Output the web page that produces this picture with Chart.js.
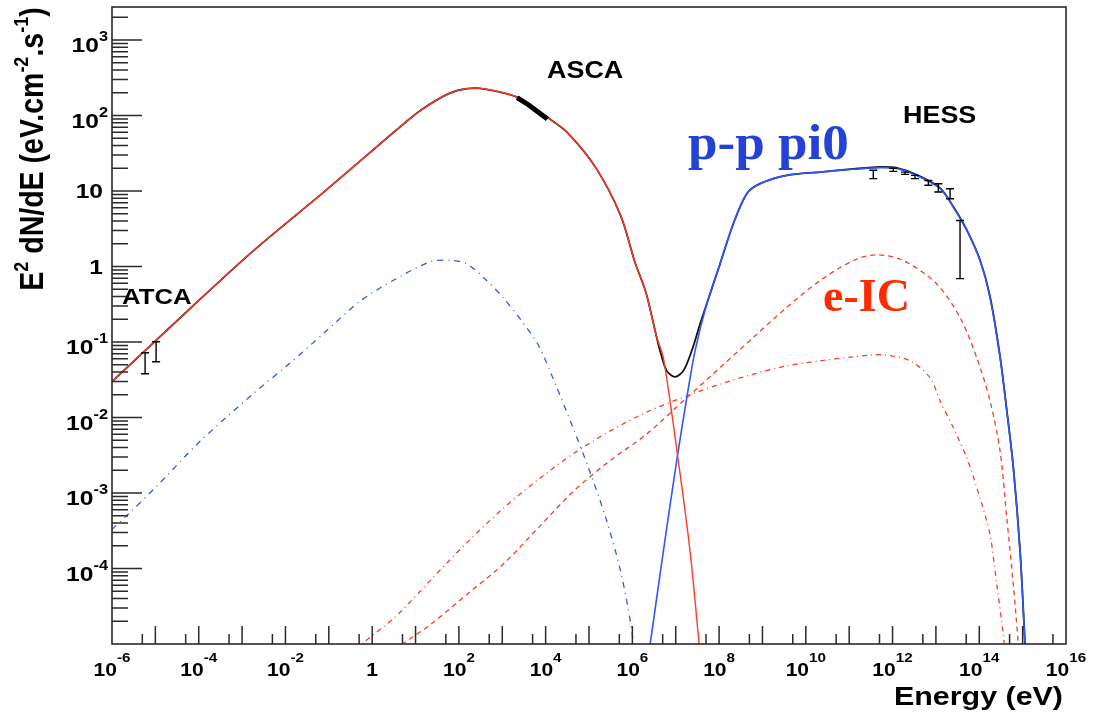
<!DOCTYPE html>
<html>
<head>
<meta charset="utf-8">
<title>Broadband SED</title>
<script src="https://cdn.jsdelivr.net/npm/chart.js@4.4.0/dist/chart.umd.min.js"></script>
<style>
  html, body { margin: 0; padding: 0; background: #fff; }
  #wrap { width: 1111px; height: 714px; position: relative; }
</style>
</head>
<body>
<div id="wrap"><canvas id="sed"></canvas></div>
<script>
// Energies in eV, fluxes as E^2 dN/dE in eV cm^-2 s^-1

// synchrotron (red solid)
const synchE = [1e-6, 7.0e-5, 1.78e-3, 0.0787, 3.49, 13.2, 60, 155, 400, 2200, 1.11e4, 3.13e4, 1.43e5, 5.4e5, 1.15e6, 2.04e6, 3.59e6, 5.18e6, 1.15e7, 2.14e7, 3.5e7, 4.0e7];
const synchY = [0.030, 0.293, 1.60, 9.8, 63.2, 117.5, 196, 227, 224, 175, 94, 59.8, 20.4, 4.69, 1.13, 0.46, 0.119, 0.0622, 2.64e-3, 1.69e-4, 9.5e-6, 4.4e-6];

// p-p pi0 decay (blue solid)
const piE = [2.4e6, 5.18e6, 1.05e7, 1.80e7, 2.79e7, 5.19e7, 1.05e8, 2.13e8, 4.35e8, 8.8e8, 3.63e9, 2.13e10, 1.25e11, 5.15e11, 1.25e12, 4.3e12, 1.25e13, 2.53e13, 5.15e13, 1.04e14, 1.77e14, 3.02e14, 4.31e14, 6.1e14, 8.73e14, 1.14e15, 1.2e15];
const piY = [7.5e-6, 1.69e-4, 2.64e-3, 0.0183, 0.0764, 0.318, 1.08, 3.68, 9.2, 12.5, 16.1, 17.8, 19.4, 20.4, 19.8, 15.3, 10.7, 6.1, 3.0, 1.20, 0.39, 0.0622, 0.0122, 2.15e-3, 1.69e-4, 9.5e-6, 5.5e-6];

// total model (black)
const totalE = [1e-6, 7.0e-5, 1.78e-3, 0.0787, 3.49, 13.2, 60, 155, 400, 2200, 1.11e4, 3.13e4, 1.43e5, 5.4e5, 1.15e6, 2.04e6, 3.59e6, 4.35e6, 6.2e6, 9.64e6, 1.5e7, 2.34e7, 3.64e7, 6.18e7, 1.05e8, 2.13e8, 4.35e8, 8.8e8, 3.63e9, 2.13e10, 1.25e11, 5.15e11, 1.25e12, 4.3e12, 1.25e13, 2.53e13, 5.15e13, 1.04e14, 1.77e14, 3.02e14, 4.31e14, 6.1e14, 8.73e14, 1.14e15, 1.2e15];
const totalY = [0.030, 0.293, 1.60, 9.8, 63.2, 117.5, 196, 227, 224, 175, 94, 59.8, 20.4, 4.69, 1.13, 0.46, 0.119, 0.0764, 0.0415, 0.0345, 0.0415, 0.0764, 0.173, 0.433, 1.08, 3.68, 9.2, 12.5, 16.1, 17.8, 19.6, 20.8, 20.2, 15.6, 10.9, 6.2, 3.05, 1.22, 0.40, 0.064, 0.0125, 2.2e-3, 1.7e-4, 9.6e-6, 5.5e-6];

// electron bremsstrahlung-like component (blue dash-dot)
const bremsE = [1e-6, 2.33e-6, 1.06e-5, 1.03e-4, 1.78e-3, 0.0118, 0.0787, 0.525, 3.49, 23.2, 66, 155, 400, 1035, 2670, 6890, 1.77e4, 4.59e4, 9.8e4, 2.52e5, 5.4e5, 9.5e5, 1.09e6];
const bremsY = [3.3e-4, 5.2e-4, 1.22e-3, 4.73e-3, 0.0205, 0.0507, 0.1325, 0.347, 0.684, 1.165, 1.205, 1.076, 0.684, 0.389, 0.197, 0.0893, 0.0257, 6.6e-3, 2.13e-3, 4.4e-4, 9.0e-5, 1.65e-5, 8e-6];

// inverse Compton, upper (red dashed)
const icHighE = [3.5, 5.1, 23.2, 155, 1035, 6890, 4.59e4, 3.05e5, 2.04e6, 1.8e7, 1.05e8, 6.17e8, 3.63e9, 2.13e10, 1.25e11, 4.33e11, 1.78e12, 1.05e13, 3.6e13, 8.75e13, 1.77e14, 3.02e14, 4.31e14, 6.1e14, 7.98e14, 8.4e14];
const icHighY = [8e-6, 1.0e-5, 1.85e-5, 4.57e-5, 1.13e-4, 3.5e-4, 1.08e-3, 2.68e-3, 5.9e-3, 0.0183, 0.0458, 0.115, 0.287, 0.65, 1.20, 1.43, 1.20, 0.587, 0.211, 0.0622, 0.0166, 3.59e-3, 4.67e-4, 6.1e-5, 9.5e-6, 5e-6];

// inverse Compton, lower (red dash-dot)
const icLowE = [0.45, 0.583, 3.49, 23.2, 155, 1035, 6890, 4.59e4, 3.05e5, 2.04e6, 1.8e7, 1.05e8, 6.17e8, 3.63e9, 2.13e10, 1.25e11, 6.14e11, 2.54e12, 7.3e12, 1.25e13, 2.53e13, 5.15e13, 1.04e14, 1.77e14, 2.54e14, 3.6e14, 3.9e14];
const icLowY = [8e-6, 1.0e-5, 2.31e-5, 7.2e-5, 2.22e-4, 6.2e-4, 1.52e-3, 3.38e-3, 6.6e-3, 0.01164, 0.0193, 0.0276, 0.0375, 0.0483, 0.0562, 0.0636, 0.0676, 0.0562, 0.0338, 0.0166, 7.3e-3, 2.92e-3, 8.6e-4, 2.81e-4, 6.1e-5, 1.32e-5, 8e-6];

// measurements
const atcaE = [5.8e-6, 1.04e-5];
const atcaY = [0.055, 0.0777];
const atcaErr = [0.017, 0.023];

const ascaE = [2.2e3, 4.0e3, 1.1e4];
const ascaY = [172, 139, 90];

const hessE = [3.6e11, 1.04e12, 1.94e12, 3.3e12, 6.7e12, 1.14e13, 2.12e13, 3.6e13];
const hessY = [16.7, 19.1, 17.2, 15.35, 12.85, 11.1, 9.3, 2.38];
const hessErr = [2.1, 0.9, 0.6, 0.75, 0.95, 1.4, 1.4, 1.69];

// axis labels
const xTickValues = [1e-6, 1e-4, 1e-2, 1, 1e2, 1e4, 1e6, 1e8, 1e10, 1e12, 1e14, 1e16];
const xTickLabels = ['10^-6', '10^-4', '10^-2', '1', '10^2', '10^4', '10^6', '10^8', '10^10', '10^12', '10^14', '10^16'];
const yTickValues = [1e-4, 1e-3, 1e-2, 1e-1, 1, 10, 1e2, 1e3];
const yTickLabels = ['10^-4', '10^-3', '10^-2', '10^-1', '1', '10', '10^2', '10^3'];

const SANS = '"Liberation Sans", Arial, Helvetica, sans-serif';
const SERIF = '"Liberation Serif", "Times New Roman", serif';
const STRETCH = 1.17; // the original text is a little wide

const RED = '#ff3b24';
const BLUE = '#2f57ff';

function pts(xs, ys) {
  return xs.map((x, i) => ({ x: x, y: ys[i] }));
}

// text drawn with a horizontal stretch, returns its width
function wideText(ctx, txt, x, y, font, align, sx) {
  ctx.save();
  ctx.font = font;
  const w = ctx.measureText(txt).width * sx;
  let x0 = x;
  if (align === 'center') x0 = x - w / 2;
  else if (align === 'right') x0 = x - w;
  ctx.translate(x0, y);
  ctx.scale(sx, 1);
  ctx.textAlign = 'left';
  ctx.textBaseline = 'alphabetic';
  ctx.fillText(txt, 0, 0);
  ctx.restore();
  return w;
}

// "10^-4" style label: base + superscript
function powerLabel(ctx, label, x, y, baseSize, supSize, rise, align) {
  const parts = label.split('^');
  const bFont = 'bold ' + baseSize + 'px ' + SANS;
  const sFont = 'bold ' + supSize + 'px ' + SANS;
  ctx.font = bFont;
  const bw = ctx.measureText(parts[0]).width * STRETCH;
  let sw = 0;
  if (parts[1]) {
    ctx.font = sFont;
    sw = ctx.measureText(parts[1]).width * STRETCH;
  }
  const total = bw + sw;
  let x0 = x;
  if (align === 'center') x0 = x - total / 2;
  else if (align === 'right') x0 = x - total;
  wideText(ctx, parts[0], x0, y, bFont, 'left', STRETCH);
  if (parts[1]) wideText(ctx, parts[1], x0 + bw, y - rise, sFont, 'left', STRETCH);
}

function errorBars(ctx, xs, ys, es, sx, sy) {
  ctx.save();
  ctx.strokeStyle = '#000';
  ctx.lineWidth = 1.4;
  ctx.beginPath();
  for (let i = 0; i < xs.length; i++) {
    const px = sx.getPixelForValue(xs[i]);
    const top = sy.getPixelForValue(ys[i] + es[i]);
    const bot = sy.getPixelForValue(ys[i] - es[i]);
    ctx.moveTo(px, top); ctx.lineTo(px, bot);
    ctx.moveTo(px - 4, top); ctx.lineTo(px + 4, top);
    ctx.moveTo(px - 4, bot); ctx.lineTo(px + 4, bot);
  }
  ctx.stroke();
  ctx.restore();
}

const rootLook = {
  id: 'rootLook',
  afterDatasetsDraw(chart) {
    const ctx = chart.ctx;
    errorBars(ctx, atcaE, atcaY, atcaErr, chart.scales.x, chart.scales.y);
    errorBars(ctx, hessE, hessY, hessErr, chart.scales.x, chart.scales.y);
  },
  afterDraw(chart) {
    const ctx = chart.ctx;
    const a = chart.chartArea;
    const sx = chart.scales.x, sy = chart.scales.y;

    ctx.save();
    ctx.strokeStyle = '#2a2a2a';
    ctx.fillStyle = '#000';

    // ticks on the bottom axis: decades long, 5x short
    ctx.lineWidth = 1.5;
    ctx.beginPath();
    for (let p = -6; p < 16; p++) {
      const major = sx.getPixelForValue(Math.pow(10, p));
      const minor = sx.getPixelForValue(5 * Math.pow(10, p));
      if (p > -6) { ctx.moveTo(major, a.bottom); ctx.lineTo(major, a.bottom - 18); }
      ctx.moveTo(minor, a.bottom); ctx.lineTo(minor, a.bottom - 10);
    }
    // ticks on the left axis
    for (let p = -5; p <= 3; p++) {
      for (let m = 1; m <= 9; m++) {
        const v = m * Math.pow(10, p);
        const py = sy.getPixelForValue(v);
        if (py > a.bottom - 1 || py < a.top + 1) continue;
        ctx.moveTo(a.left, py);
        ctx.lineTo(a.left + (m === 1 ? 30 : 16), py);
      }
    }
    ctx.stroke();

    // frame
    ctx.lineWidth = 1.6;
    ctx.strokeRect(a.left, a.top, a.right - a.left, a.bottom - a.top);

    // tick labels
    xTickValues.forEach((v, i) => {
      powerLabel(ctx, xTickLabels[i], sx.getPixelForValue(v), 676, 18, 13, 14, 'center');
    });
    yTickValues.forEach((v, i) => {
      const py = sy.getPixelForValue(v);
      const lab = yTickLabels[i];
      if (lab.indexOf('^') >= 0) powerLabel(ctx, lab, a.left - 4, py + 12.5, 21, 14, 11, 'right');
      else powerLabel(ctx, lab, a.left - 9, py + 7.5, 21, 14, 11, 'right');
    });

    // axis titles
    wideText(ctx, 'Energy (eV)', 1063, 705, 'bold 26px ' + SANS, 'right', STRETCH);

    ctx.save();
    ctx.translate(43, 149);
    ctx.scale(STRETCH, 1);
    ctx.rotate(-Math.PI / 2);
    const segs = [['E', 0], ['2', 1], [' dN/dE (eV.cm', 0], ['-2', 1], ['.s', 0], ['-1', 1], [')', 0]];
    const bigF = 'bold 28.5px ' + SANS, supF = 'bold 18px ' + SANS;
    let tw = 0;
    segs.forEach(s => { ctx.font = s[1] ? supF : bigF; tw += ctx.measureText(s[0]).width; });
    let cx = -tw / 2;
    ctx.textBaseline = 'alphabetic';
    segs.forEach(s => {
      ctx.font = s[1] ? supF : bigF;
      ctx.fillText(s[0], cx, s[1] ? -13 : 0);
      cx += ctx.measureText(s[0]).width;
    });
    ctx.restore();

    // instrument and component labels
    wideText(ctx, 'ATCA', 122, 304, 'bold 22px ' + SANS, 'left', STRETCH);
    wideText(ctx, 'ASCA', 547, 78, 'bold 23px ' + SANS, 'left', STRETCH);
    wideText(ctx, 'HESS', 903, 123, 'bold 23px ' + SANS, 'left', STRETCH);
    ctx.fillStyle = '#2542d6';
    wideText(ctx, 'p-p pi0', 688, 159, 'bold 51px ' + SERIF, 'left', 1.04);
    ctx.fillStyle = '#ff2a00';
    wideText(ctx, 'e-IC', 823, 311, 'bold 46px ' + SERIF, 'left', 1);

    ctx.restore();
  }
};

const ctx = document.getElementById('sed').getContext('2d');
new Chart(ctx, {
  type: 'line',
  data: {
    datasets: [
      { data: pts(ascaE, ascaY), borderColor: '#000', borderWidth: 5, borderCapStyle: 'butt', tension: 0 },
      { data: pts(synchE, synchY), borderColor: RED, borderWidth: 1.4 },
      { data: pts(piE, piY), borderColor: BLUE, borderWidth: 1.6 },
      { data: pts(icHighE, icHighY), borderColor: RED, borderWidth: 1.3, borderDash: [5, 4] },
      { data: pts(icLowE, icLowY), borderColor: RED, borderWidth: 1.3, borderDash: [5, 4, 1, 4] },
      { data: pts(bremsE, bremsY), borderColor: BLUE, borderWidth: 1.3, borderDash: [6, 5, 1, 5] },
      { data: pts(totalE, totalY), borderColor: '#111', borderWidth: 1.8 }
    ]
  },
  options: {
    responsive: true,
    maintainAspectRatio: false,
    animation: false,
    layout: { padding: { left: 112, top: 7, right: 45, bottom: 70 } },
    elements: {
      point: { radius: 0, hoverRadius: 0 },
      line: { fill: false, tension: 0.3 }
    },
    plugins: {
      legend: { display: false },
      tooltip: { enabled: false }
    },
    scales: {
      x: { type: 'logarithmic', min: 1e-6, max: 1e16, display: false },
      y: { type: 'logarithmic', min: 1e-5, max: 2735, display: false }
    }
  },
  plugins: [rootLook]
});
</script>
</body>
</html>
